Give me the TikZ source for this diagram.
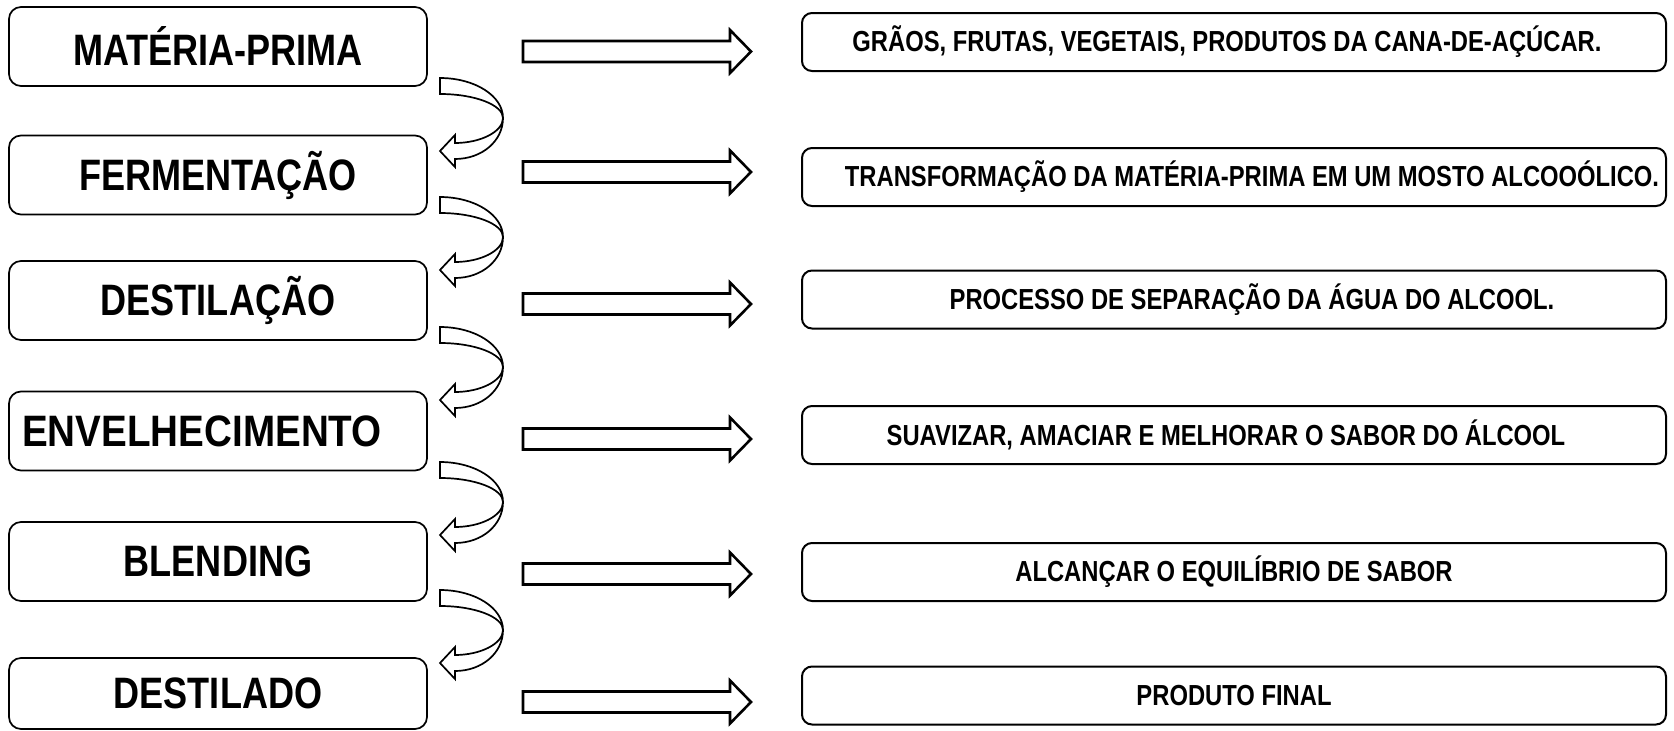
\documentclass[tikz,border=0pt]{standalone}
\usepackage{fontspec}
\setmainfont{Liberation Sans}[FakeStretch=0.82]
\newcommand\blockarr[1]{%
  \draw[barrow] (523,{#1-10.5}) -- (730,{#1-10.5}) -- (730,{#1-21.5}) -- (751,#1)
    -- (730,{#1+21.5}) -- (730,{#1+10.5}) -- (523,{#1+10.5}) -- cycle;}
\newcommand\curvarr[1]{%
  \draw[carrow] (440,#1) .. controls (475,#1) and (503,{#1+18}) .. (503,{#1+40})
    .. controls (503,{#1+63}) and (482,{#1+81}) .. (455,{#1+81})
    -- (455,{#1+89}) -- (440,{#1+73}) -- (455,{#1+57}) -- (455,{#1+65})
    .. controls (480,{#1+65}) and (503,{#1+54}) .. (503,{#1+40})
    .. controls (503,{#1+27}) and (475,{#1+16}) .. (440,{#1+16}) -- cycle;}
\newcommand\shifttext[2]{\hspace*{#1}#2}
\begin{document}
\begin{tikzpicture}[x=1pt,y=-1pt,
  lbox/.style={draw, line width=1.7pt, rounded corners=12pt, minimum width=418pt,
    minimum height=79pt, inner sep=0pt, font=\fontsize{44}{50}\selectfont\bfseries},
  rbox/.style={draw, line width=2pt, rounded corners=10pt, minimum width=864pt,
    minimum height=58pt, inner sep=0pt, font=\fontsize{29}{34}\selectfont\bfseries},
  barrow/.style={draw, line width=2.6pt, fill=white, line join=miter},
  carrow/.style={draw, line width=1.7pt, fill=white, line join=miter}]
\useasboundingbox (0,0) rectangle (1674,731);
% left column
\node[lbox] (l1) at (218,46.5) {MATÉRIA-PRIMA};
\node[lbox] (l2) at (218,175) {FERMENTAÇÃO};
\node[lbox] (l3) at (218,300.5) {DESTILAÇÃO};
\node[lbox] (l4) at (218,431) {\shifttext{-32pt}{\scalebox{1.07}[1]{ENVELHECIMENTO}}};
\node[lbox] (l5) at (218,561.5) {BLENDING};
\node[lbox, minimum height=71pt] (l6) at (218,693.5) {DESTILADO};
% right column
\node[rbox] (r1) at (1234,42) {\shifttext{-14pt}{GRÃOS, FRUTAS, VEGETAIS, PRODUTOS DA CANA-DE-AÇÚCAR.}};
\node[rbox] (r2) at (1234,177) {\shifttext{36pt}{TRANSFORMAÇÃO DA MATÉRIA-PRIMA EM UM MOSTO ALCOOÓLICO.}};
\node[rbox] (r3) at (1234,299.5) {\shifttext{36pt}{PROCESSO DE SEPARAÇÃO DA ÁGUA DO ALCOOL.}};
\node[rbox] (r4) at (1234,435) {\shifttext{-16pt}{SUAVIZAR, AMACIAR E MELHORAR O SABOR DO ÁLCOOL}};
\node[rbox] (r5) at (1234,572) {ALCANÇAR O EQUILÍBRIO DE SABOR};
\node[rbox] (r6) at (1234,695.5) {PRODUTO FINAL};
% block arrows
\blockarr{51.5}
\blockarr{172}
\blockarr{304}
\blockarr{439}
\blockarr{574}
\blockarr{702}
% curved arrows
\curvarr{78}
\curvarr{197}
\curvarr{327}
\curvarr{462}
\curvarr{590}
\end{tikzpicture}
\end{document}
